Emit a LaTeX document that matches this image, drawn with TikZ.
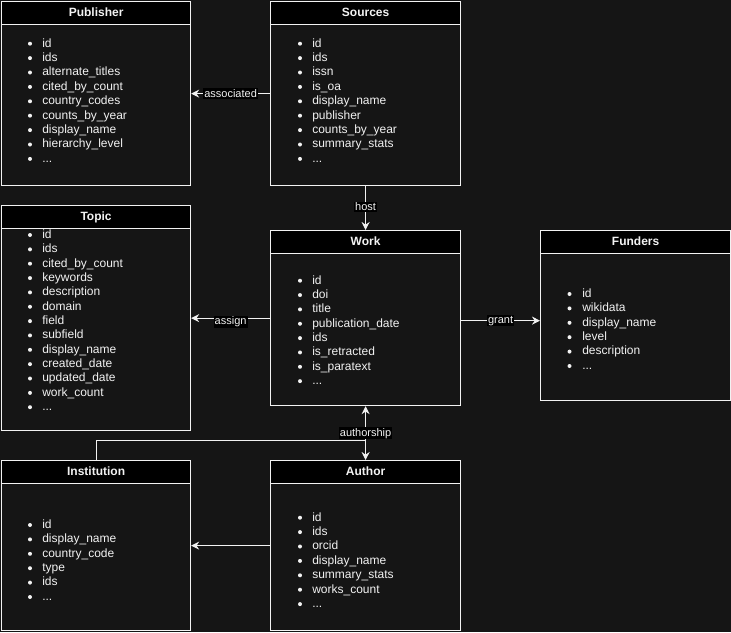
\documentclass[tikz,border=0pt]{standalone}
\usepackage{fontspec}
\setmainfont{Liberation Sans}
\usetikzlibrary{arrows.meta}
\definecolor{bg}{RGB}{21,21,21}
\definecolor{fg}{RGB}{242,242,242}
\tikzset{
  entbody/.style={draw=fg, line width=0.9pt, fill=bg, inner sep=0pt, anchor=north west},
  enthead/.style={draw=fg, line width=0.9pt, fill=black, inner sep=0pt, anchor=north west,
    font=\bfseries\fontsize{9}{10}\selectfont, text=fg},
  item/.style={anchor=base west, inner sep=0pt, font=\fontsize{9}{10.8}\selectfont, text=fg},
  conn/.style={draw=fg, line width=0.75pt, -{Stealth[length=6pt,width=6pt,inset=2pt]}},
  lbl/.style={fill=black, text=fg, inner sep=0.8pt, font=\fontsize{8.25}{9}\selectfont},
}
\newcommand\moredots{...}
% name, x, y, w, h, title
\newcommand\entbox[6]{%
  \node[entbody, minimum width=#4*0.75pt, minimum height=#5*0.75pt] (#1) at (#2,#3) {};
  \node[enthead, minimum width=#4*0.75pt, minimum height=23*0.75pt] (#1-h) at (#2,#3) {\raisebox{1.3pt}{#6}};
}
% name, bullet x, text x, first baseline, step, items
\newcommand\entitems[6]{%
  \foreach \itm [count=\i] in {#6} {
    \fill[fg] (#2,{#4+(\i-1)*#5-3.3}) circle[radius=1.5pt];
    \node[item] (#1-\i) at (#3,{#4+(\i-1)*#5}) {\itm};
  }
}
\begin{document}
\begin{tikzpicture}[x=0.75pt, y=-0.75pt]
\path[use as bounding box, fill=bg] (0,0) rectangle (731,632);

\entbox{pub}{1}{1}{189}{184}{Publisher}
\entitems{pub}{30}{42}{47}{14.4}{id, ids, alternate\_titles, cited\_by\_count, country\_codes, counts\_by\_year, display\_name, hierarchy\_level, \moredots}

\entbox{src}{270}{1}{190}{184}{Sources}
\entitems{src}{300}{312}{47}{14.4}{id, ids, issn, is\_oa, display\_name, publisher, counts\_by\_year, summary\_stats, \moredots}

\entbox{topic}{1}{205}{189}{225}{Topic}
\entitems{topic}{30}{42}{238.3}{14.35}{id, ids, cited\_by\_count, keywords, description, domain, field, subfield, display\_name, created\_date, updated\_date, work\_count, \moredots}

\entbox{work}{270}{230}{190}{175}{Work}
\entitems{work}{300}{312}{284}{14.35}{id, doi, title, publication\_date, ids, is\_retracted, is\_paratext, \moredots}

\entbox{fund}{540}{230}{190}{170}{Funders}
\entitems{fund}{569.5}{582}{297.3}{14.4}{id, wikidata, display\_name, level, description, \moredots}

\entbox{inst}{1}{460}{189}{170}{Institution}
\entitems{inst}{30}{42}{528.3}{14.4}{id, display\_name, country\_code, type, ids, \moredots}

\entbox{auth}{270}{460}{190}{170}{Author}
\entitems{auth}{300}{312}{521}{14.4}{id, ids, orcid, display\_name, summary\_stats, works\_count, \moredots}

% connectors
\draw[conn] (src.west) -- (pub.east) node[midway, lbl] {associated};
\draw[conn] (src.south) -- (work.north) node[midway, lbl, yshift=1pt] {host};
\draw[conn] (work.west) -- (topic.east) node[midway, lbl, yshift=-3pt] {assign};
\draw[conn] ([yshift=-1.9pt]work.east) -- ([yshift=-1.9pt]work.east -| fund.west) node[midway, lbl] {grant};
\coordinate (j) at (work.south |- 0,440);
\draw[conn] (inst.north) |- (j) -- (work.south) node[pos=0.2, lbl] {authorship};
\draw[conn] (j) -- (auth.north);
\draw[conn] (auth.west) -- (auth.west -| inst.east);
\end{tikzpicture}
\end{document}
